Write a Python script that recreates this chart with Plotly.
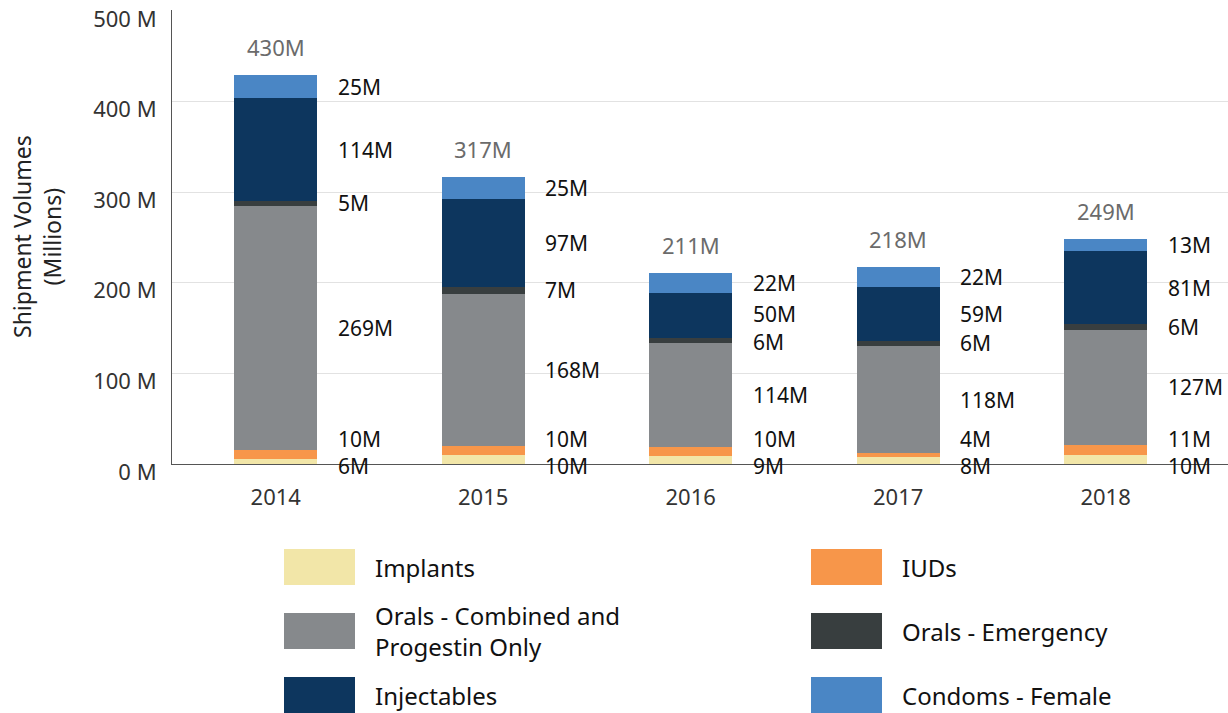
import plotly.graph_objects as go

# ---------------- data ----------------
years = ["2014", "2015", "2016", "2017", "2018"]
series_names = ["Implants", "IUDs", "Orals - Combined and<br>Progestin Only",
                "Orals - Emergency", "Injectables", "Condoms - Female"]
implants = [6, 10, 9, 8, 10]
iuds = [10, 10, 10, 4, 11]
orals_combined = [269, 168, 114, 118, 127]
orals_emergency = [5, 7, 6, 6, 6]
injectables = [114, 97, 50, 59, 81]
condoms_female = [25, 25, 22, 22, 13]
totals = [430, 317, 211, 218, 249]
y_ticks = [0, 100, 200, 300, 400, 500]
y_tick_labels = ["0 M", "100 M", "200 M", "300 M", "400 M", "500 M"]

# ---------------- style ----------------
colors = ["#F2E6A8", "#F7964A", "#86898C", "#383E3F", "#0D365E", "#4A86C5"]
series = [implants, iuds, orals_combined, orals_emergency, injectables, condoms_female]
FONT = "Noto Sans"
W, H = 1228, 713
L, R, T, B = 172, 0, 10, 249
X_RANGE = [-0.5, 4.59]
Y_RANGE = [0, 501]
BAR_W = 0.4
LABEL_DX = 0.289      # label offset to the right of the bar centre (x units)
LABEL_GAP = 30        # min vertical gap between labels (y units)
LABEL_FLOOR = -2

plot_w = W - L - R
plot_h = H - T - B


def px_x(p):
    return (p - L) / plot_w


def px_y(p):
    return (H - B - p) / plot_h


def val_y(v):
    return (v - Y_RANGE[0]) / (Y_RANGE[1] - Y_RANGE[0])


fig = go.Figure()
for name, vals, col in zip(series_names, series, colors):
    fig.add_trace(go.Bar(x=years, y=vals, name=name.replace("<br>", " "),
                         marker=dict(color=col, line=dict(width=0)),
                         width=BAR_W, showlegend=False, hoverinfo="x+y"))

annotations = []
# segment labels with simple de-overlap
for i, yr in enumerate(years):
    cum = 0
    mids = []
    for vals in series:
        mids.append(cum + vals[i] / 2)
        cum += vals[i]
    pos = list(mids)
    for _ in range(200):
        for k in range(len(pos) - 1):
            d = pos[k + 1] - pos[k]
            if d < LABEL_GAP:
                push = (LABEL_GAP - d) / 2
                pos[k] -= push
                pos[k + 1] += push
        pos[0] = max(pos[0], LABEL_FLOOR)
    for k, vals in enumerate(series):
        annotations.append(dict(x=i + LABEL_DX, y=val_y(pos[k]), xref="x", yref="paper",
                                text=f"{vals[i]}M", showarrow=False, xanchor="left",
                                yanchor="middle", font=dict(family=FONT, size=21, color="#111111")))
    # totals
    annotations.append(dict(x=i, y=val_y(cum), xref="x", yref="paper", text=f"{totals[i]}M",
                            showarrow=False, xanchor="center", yanchor="middle", yshift=28,
                            font=dict(family=FONT, size=22, color="#6b6b6b")))

# y axis title
annotations.append(dict(x=px_x(37), y=px_y(237), xref="paper", yref="paper",
                        text="Shipment Volumes<br>(Millions)", textangle=-90, showarrow=False,
                        xanchor="center", yanchor="middle",
                        font=dict(family=FONT, size=23, color="#222222")))

# custom legend
shapes = []
col_x = [284, 811]
row_cy = [567, 631, 695]
SW_W, SW_H = 71, 36
for idx, (name, col) in enumerate(zip(series_names, colors)):
    r, c = idx // 2, idx % 2
    x0 = col_x[c]
    cy = row_cy[r]
    shapes.append(dict(type="rect", xref="paper", yref="paper",
                       x0=px_x(x0), x1=px_x(x0 + SW_W),
                       y0=px_y(cy + SW_H / 2), y1=px_y(cy - SW_H / 2),
                       fillcolor=col, line=dict(width=0)))
    annotations.append(dict(x=px_x(x0 + 89), y=px_y(cy), xref="paper", yref="paper",
                            text=name, showarrow=False, xanchor="left", yanchor="middle",
                            align="left",
                            font=dict(family=FONT, size=24, color="#111111")))

fig.update_layout(
    width=W, height=H,
    margin=dict(l=L, r=R, t=T, b=B, autoexpand=False),
    barmode="stack",
    plot_bgcolor="white", paper_bgcolor="white",
    font=dict(family=FONT, size=20, color="#333333"),
    annotations=annotations, shapes=shapes,
    xaxis=dict(range=X_RANGE, showgrid=False, showline=True, linecolor="#555555", linewidth=1,
               ticks="", tickfont=dict(family=FONT, size=22, color="#333333"),
               ticklabelstandoff=14, fixedrange=True),
    yaxis=dict(range=Y_RANGE, tickvals=y_ticks, ticktext=y_tick_labels,
               showgrid=True, gridcolor="#e2e2e2", gridwidth=1,
               showline=True, linecolor="#555555", linewidth=1, zeroline=False,
               ticks="", tickfont=dict(family=FONT, size=22, color="#333333"),
               ticklabelstandoff=10, ticklabelshift=8, fixedrange=True),
    bargap=0,
)

fig.write_html("out.html", config={"displayModeBar": False},
               post_script="document.body.style.margin='0';document.body.style.overflow='hidden';")
